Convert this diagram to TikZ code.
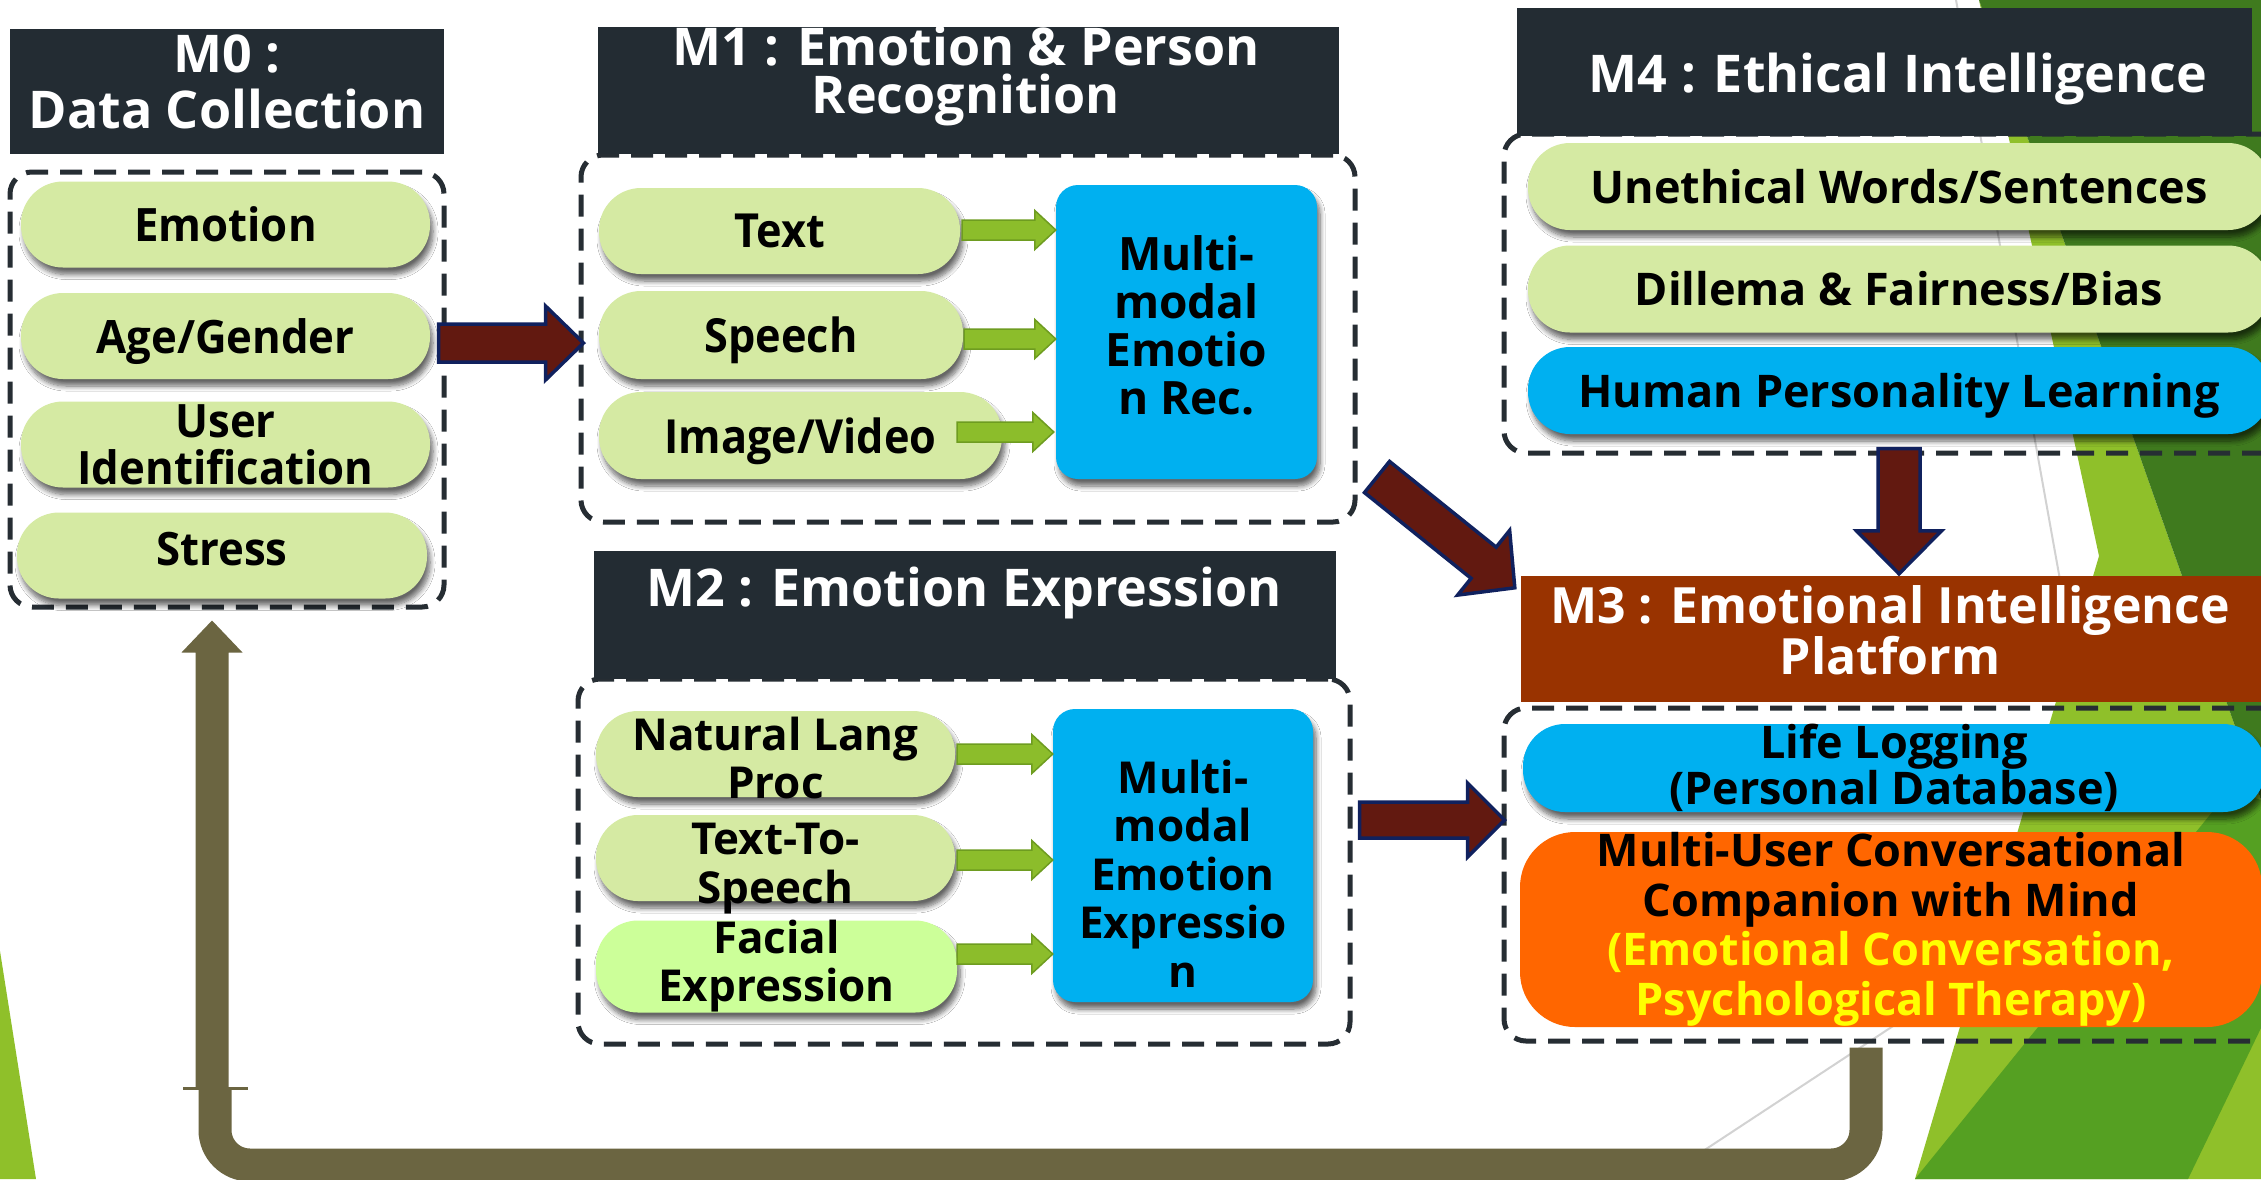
\documentclass[tikz,border=0pt]{standalone}
\usepackage{fontspec}
\setmainfont{Open Sans}
\newfontfamily\fpillA{Open Sans}[FakeStretch=0.95]
\newfontfamily\fpillB{Open Sans}[FakeStretch=0.92]
\usetikzlibrary{calc,shadows.blur}

\definecolor{hdr}{HTML}{232C33}
\definecolor{dashc}{HTML}{262D33}
\definecolor{pillg}{HTML}{D5EAA3}
\definecolor{facialg}{HTML}{CCFF99}
\definecolor{cyanb}{HTML}{00B0F0}
\definecolor{orng}{HTML}{FF6600}
\definecolor{ylw}{HTML}{FFFF00}
\definecolor{m3c}{HTML}{993300}
\definecolor{maroonc}{HTML}{621910}
\definecolor{navyc}{HTML}{10215E}
\definecolor{arrg}{HTML}{8CBD2B}
\definecolor{arrgd}{HTML}{6E9C20}
\definecolor{olivec}{HTML}{6B6541}
\definecolor{gdark}{HTML}{3F7A1E}
\definecolor{glight}{HTML}{8FC02A}
\definecolor{gmid}{HTML}{55A022}
\definecolor{gline}{HTML}{D2D2D2}

% block arrow: style, start, end, shaft half width, head half width, head length
\newcommand\blockarrow[6]{%
  \coordinate (babase) at ($(#3)!#6!(#2)$);
  \path[#1] ($(#2)!#4!90:(#3)$) -- ($(babase)!#4!90:(#3)$) -- ($(babase)!#5!90:(#3)$)
    -- (#3) -- ($(babase)!#5!-90:(#3)$) -- ($(babase)!#4!-90:(#3)$) -- ($(#2)!#4!-90:(#3)$) -- cycle;}

\tikzset{
  sz/.style 2 args={minimum width=#1pt,minimum height=#2pt},
  hdrbox/.style={rectangle, fill=hdr, inner sep=0pt},
  hdrtext/.style={text=white, align=center, inner sep=0pt, font=\bfseries\fontsize{52}{55.5}\selectfont},
  grpbox/.style={rectangle, draw=dashc, line width=5pt, dash pattern=on 22pt off 12pt, rounded corners=22pt, inner sep=0pt},
  softshadow/.style={blur shadow={shadow xshift=3pt, shadow yshift=-7pt, shadow blur radius=5pt, shadow blur steps=8, shadow opacity=60}},
  pillbox/.style={rectangle, rounded corners=42pt, fill=pillg, softshadow, align=center, inner sep=0pt, text=black},
  onerow/.style={text depth=0pt},
  convbox/.style={rectangle, rounded corners=55pt, fill=orng, align=center, inner sep=0pt, text=black},
  multibox/.style={rectangle, rounded corners=22pt, fill=cyanb, softshadow, inner sep=0pt},
  ptext/.style={align=center, inner sep=0pt, text=black},
  bigarrow/.style={fill=maroonc, draw=navyc, line width=3.5pt, line join=miter},
  smallarrow/.style={fill=arrg, draw=arrgd, line width=1.5pt, line join=miter},
  looparrow/.style={fill=olivec},
  loopline/.style={draw=olivec, line width=33pt, rounded corners=35pt},
  zeropill/.style={font=\fpillA\bfseries\fontsize{46}{47}\selectfont},
  onepill/.style={font=\fpillB\bfseries\fontsize{47}{48}\selectfont},
  twopill/.style={font=\bfseries\fontsize{44}{48}\selectfont},
  fourpill/.style={font=\bfseries\fontsize{45}{46}\selectfont},
}

\begin{document}
\begin{tikzpicture}[x=1pt,y=-1pt]
\useasboundingbox (0,0) rectangle (2261,1179);
\fill[white] (0,0) rectangle (2261,1179);

% background facets
\fill[glight] (1979,0) -- (2261,800) -- (2261,1179) -- (1915,1179) -- (2099,556) -- cycle;
\fill[gdark] (1979,0) -- (2261,0) -- (2261,800) -- cycle;
\fill[gmid] (2230,790) -- (2261,800) -- (2261,1028) -- (2188,1179) -- (1915,1179) -- cycle;
\fill[glight] (0,951) -- (36,1179) -- (0,1179) -- cycle;
\draw[gline, line width=2pt] (1956,0) -- (2060,580);
\draw[gline, line width=2pt] (1925,1005) -- (1700,1153);

% M0 : data collection
\node[grpbox, sz={434}{435}] (m0box) at (227,389.5) {};
\node[hdrbox, sz={434}{125}] (m0head) at (227,91) {};
\node[hdrtext] (m0title) at (227,82) {M0 :\\Data Collection};
\node[pillbox, zeropill, onerow, sz={409}{86}] (emo) at (225.5,224.5) {Emotion};
\node[pillbox, zeropill, onerow, sz={409}{86}] (age) at (225.5,336) {Age/Gender};
\node[pillbox, zeropill, sz={409}{86}] (user) at (225.5,444.5) {User\\Identification};
\node[pillbox, zeropill, text depth=14pt, sz={410}{86}] (stress) at (222,555.5) {Stress};

% M1 : emotion & person recognition
\node[grpbox, sz={774}{367}] (m1box) at (968,338.5) {};
\node[hdrbox, sz={741}{127}] (m1head) at (968.5,90.5) {};
\node[hdrtext, font=\bfseries\fontsize{52}{48}\selectfont] (m1title) at (966,75.5) {M1 : Emotion \& Person\\Recognition};
\node[pillbox, onepill, onerow, sz={361}{86}] (textp) at (779.5,231) {Text};
\node[pillbox, onepill, onerow, sz={364}{88}] (speech) at (781,335) {Speech};
\node[pillbox, onepill, onerow, sz={403}{87}] (imgvid) at (800.5,435.5) {Image/Video};
\node[multibox, sz={261}{294}] (m1blue) at (1186.5,332) {};
\node[ptext, font=\bfseries\fontsize{46}{48}\selectfont] (m1bluetext) at ($(m1blue.center)+(0,-7)$) {Multi-\\modal\\Emotio\\n Rec.};

% M2 : emotion expression
\node[grpbox, sz={772}{365}] (m2box) at (964,861.5) {};
\node[hdrbox, sz={742}{128}] (m2head) at (965,615) {};
\node[hdrtext] (m2title) at (964,592.5) {M2 : Emotion Expression};
\node[pillbox, sz={359}{86}] (nlp) at (775.5,754) {};
\node[ptext, twopill] (nlptext) at ($(nlp.center)+(0,4)$) {Natural Lang\\Proc};
\node[pillbox, sz={359}{86}] (tts) at (775.5,858) {};
\node[ptext, twopill, font=\bfseries\fontsize{44}{49}\selectfont] (ttstext) at ($(tts.center)+(0,11)$) {Text-To-\\Speech};
\node[pillbox, twopill, fill=facialg, sz={361}{87}] (facial) at (776.5,966.5) {Facial\\Expression};
\node[multibox, sz={260}{293}] (m2blue) at (1183,855.5) {};
\node[ptext, font=\bfseries\fontsize{44}{48.5}\selectfont] (m2bluetext) at ($(m2blue.center)+(0,18)$) {Multi-\\modal\\Emotion\\Expressio\\n};

% M4 : ethical intelligence
\node[grpbox, sz={786}{319}] (m4box) at (1897,293.5) {};
\node[hdrbox, sz={735}{128}] (m4head) at (1884.5,72) {};
\node[hdrtext, font=\bfseries\fontsize{52}{56}\selectfont] (m4title) at (1898,79) {M4 : Ethical Intelligence};
\node[pillbox, fourpill, sz={742}{87}] (uneth) at (1899,186.5) {Unethical Words/Sentences};
\node[pillbox, fourpill, sz={742}{87}] (dilem) at (1899,289) {Dillema \& Fairness/Bias};
\node[pillbox, fourpill, onerow, fill=cyanb, sz={742}{87}] (human) at (1899,390.5) {Human Personality Learning};

% M3 : emotional intelligence platform
\node[grpbox, sz={786}{333}] (m3box) at (1897,874.5) {};
\node[hdrbox, fill=m3c, sz={740}{126}] (m3head) at (1891,639) {};
\node[hdrtext, font=\bfseries\fontsize{50}{47}\selectfont] (m3title) at (1890,630.5) {M3 : Emotional Intelligence\\Platform};
\node[pillbox, fill=cyanb, sz={742}{88}, font=\bfseries\fontsize{45}{43}\selectfont] (lifelog) at (1894,768) {Life Logging\\(Personal Database)};
\node[convbox, sz={742}{195}, font=\bfseries\fontsize{45}{49.5}\selectfont] (conv) at (1891,929.5)
  {Multi-User Conversational\\Companion with Mind\\\textcolor{ylw}{(Emotional Conversation,}\\\textcolor{ylw}{Psychological Therapy)}};

% small green arrows into the multimodal blocks
\coordinate (g1s) at ($(textp.east)+(2,-1)$);   \coordinate (g1e) at (m1blue.west |- g1s);
\coordinate (g2s) at ($(speech.east)+(1,4)$);   \coordinate (g2e) at (m1blue.west |- g2s);
\coordinate (g3s) at ($(imgvid.east)+(-45,-3.5)$); \coordinate (g3e) at ($(m1blue.west |- g3s)+(-2,0)$);
\coordinate (g4s) at ($(nlp.east)+(2,0)$);      \coordinate (g4e) at (m2blue.west |- g4s);
\coordinate (g5s) at ($(tts.east)+(2,2)$);      \coordinate (g5e) at (m2blue.west |- g5s);
\coordinate (g6s) at ($(facial.east)+(0,-12.5)$); \coordinate (g6e) at (m2blue.west |- g6s);
\blockarrow{smallarrow}{g1s}{g1e}{10pt}{19.5pt}{21pt}
\blockarrow{smallarrow}{g2s}{g2e}{10pt}{19.5pt}{21pt}
\blockarrow{smallarrow}{g3s}{g3e}{10pt}{19.5pt}{21pt}
\blockarrow{smallarrow}{g4s}{g4e}{10pt}{19.5pt}{21pt}
\blockarrow{smallarrow}{g5s}{g5e}{10pt}{19.5pt}{21pt}
\blockarrow{smallarrow}{g6s}{g6e}{10pt}{19.5pt}{21pt}

% block arrows between modules
\coordinate (a1s) at ($(m0box.east)+(-8,-46.5)$);
\coordinate (a1e) at ($(m1box.west)+(5,4.5)$);
\blockarrow{bigarrow}{a1s}{a1e}{19pt}{37pt}{38pt}
\coordinate (a2s) at ($(m1box.south east)+(19.5,-47.5)$);
\coordinate (a2e) at ($(m3head.north west)+(-6,12)$);
\blockarrow{bigarrow}{a2s}{a2e}{20pt}{41.5pt}{40pt}
\coordinate (a3s) at ($(m2box.east)+(7,-41.5)$);
\coordinate (a3e) at ($(m3box.west)+(3,-54.5)$);
\blockarrow{bigarrow}{a3s}{a3e}{18pt}{37pt}{37pt}
\coordinate (a4s) at ($(m4box.south)+(2,-7)$);
\coordinate (a4e) at ($(m3head.north)+(8,-2)$);
\blockarrow{bigarrow}{a4s}{a4e}{21pt}{42.5pt}{43pt}

% feedback loop from the platform back to data collection
\coordinate (fbs) at ($(m3box.south)+(-31,4)$);
\coordinate (fbm) at ($(m0box.south)+(-12,555.5)$);
\coordinate (fbtip) at ($(m0box.south)+(-15,11)$);
\coordinate (fbj) at ($(fbtip)+(0,468)$);
\draw[loopline] (fbs) -- (fbs |- fbm) -- (fbm) -- (fbm |- fbj);
\blockarrow{looparrow}{fbj}{fbtip}{16.5pt}{30.5pt}{32pt}
\draw[olivec, line width=3pt] ($(fbj)+(-29,0)$) -- ($(fbj)+(36,0)$);
\end{tikzpicture}
\end{document}
